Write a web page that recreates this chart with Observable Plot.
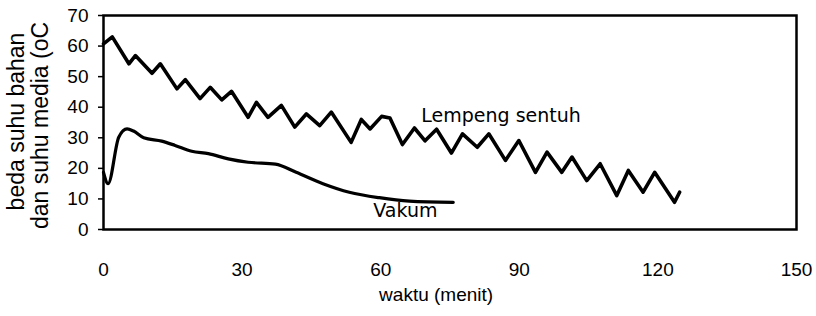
<!DOCTYPE html>
<html>
<head>
<meta charset="utf-8">
<script src="https://cdn.jsdelivr.net/npm/d3@7"></script>
<script src="https://cdn.jsdelivr.net/npm/@observablehq/plot@0.6"></script>
<style>
  html, body { margin: 0; padding: 0; background: #fff; }
  #chart { width: 816px; height: 316px; }
</style>
</head>
<body>
<div id="chart"></div>
<script>
// Series: "Lempeng sentuh" (peaks and troughs)
const lempengT = [0, 1.9, 5.5, 6.9, 10.5, 12.3, 15.9, 17.7, 20.9, 23.1, 25.6, 27.7, 31.3, 33.1, 35.6, 38.5, 41.4, 43.9, 46.8, 49.3, 53.6, 55.8, 57.7, 60.2, 62, 64.7, 67.3, 69.6, 72.1, 75.3, 77.7, 80.9, 83.4, 87, 89.9, 93.5, 96, 99.2, 101.4, 104.6, 107.5, 111.1, 113.6, 116.8, 119.3, 123.6, 124.7];
const lempengY = [60.7, 63, 54.2, 56.9, 51.1, 54.2, 46, 49, 42.8, 46.5, 42.4, 45.2, 36.7, 41.6, 36.7, 40.6, 33.5, 37.8, 34, 38.4, 28.5, 36, 32.9, 37, 36.5, 27.8, 33.2, 29, 32.8, 25, 31.3, 26.9, 31.3, 22.6, 29.1, 18.7, 25.3, 18.7, 23.7, 16, 21.5, 11.1, 19.3, 12.2, 18.7, 8.9, 12.2];

// Series: "Vakum"
const vakumT = [0, 1, 3.3, 5.1, 6.5, 8.7, 12.6, 15.5, 19.1, 22.7, 27, 31.3, 37.2, 41.7, 47.5, 53.2, 59.7, 66.2, 75.7];
const vakumY = [18.7, 15, 30.2, 32.9, 32.2, 30, 28.9, 27.5, 25.6, 24.8, 23.1, 22, 21.4, 18.7, 15, 12.2, 10.4, 9.3, 8.9];

// Axes
const xTicks = [0, 30, 60, 90, 120, 150];
const yTicks = [0, 10, 20, 30, 40, 50, 60, 70];
const xTitle = "waktu (menit)";
const yTitleLines = ["beda suhu bahan", "dan suhu media (oC"];

// Series labels
const seriesLabels = [
  {name: "Lempeng sentuh", t: 68.8, v: 37.3},
  {name: "Vakum", t: 58.4, v: 6.2}
];

const lempeng = lempengT.map((t, i) => ({t, v: lempengY[i]}));
const vakum = vakumT.map((t, i) => ({t, v: vakumY[i]}));

const chart = Plot.plot({
  width: 816,
  height: 316,
  marginLeft: 103,
  marginRight: 20,
  marginTop: 15,
  marginBottom: 87,
  style: {fontFamily: "'Liberation Sans', Arial, sans-serif", fontSize: "19px", background: "#fff", color: "#000"},
  x: {domain: [0, 150]},
  y: {domain: [0, 70]},
  marks: [
    Plot.axisY({ticks: yTicks, tickSize: 5, tickPadding: 10, label: null, fontSize: 19, strokeWidth: 1.5}),
    Plot.axisX({ticks: xTicks, tickSize: 0, tickPadding: 33, label: null, fontSize: 19}),
    Plot.frame({stroke: "#000", strokeWidth: 2.5}),
    Plot.line(vakum, {x: "t", y: "v", curve: "monotone-x", stroke: "#000", strokeWidth: 3.2, strokeLinejoin: "round"}),
    Plot.line(lempeng, {x: "t", y: "v", curve: "linear", stroke: "#000", strokeWidth: 3.6, strokeLinejoin: "round"}),
    Plot.text(seriesLabels, {x: "t", y: "v", text: "name", textAnchor: "start", fontFamily: "'DejaVu Sans', sans-serif", fontSize: 19, fill: "#000"}),
    Plot.text([xTitle], {x: [72], frameAnchor: "bottom", dy: 71, text: d => d, fontSize: 19, fill: "#000"}),
    Plot.text([yTitleLines[0]], {x: [0], y: [35], rotate: -90, dx: -87, dy: -1, text: d => d, fontSize: 23, fill: "#000"}),
    Plot.text([yTitleLines[1]], {x: [0], y: [35], rotate: -90, dx: -63, dy: 3, text: d => d, fontSize: 23, fill: "#000"})
  ]
});
document.getElementById("chart").appendChild(chart);
</script>
</body>
</html>
